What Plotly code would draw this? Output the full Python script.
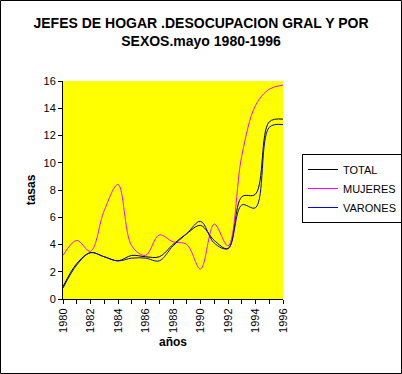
import plotly.graph_objects as go

years = list(range(1980, 1997))
total = [0.9, 2.6, 3.4, 3.1, 2.8, 3.2, 3.1, 3.1, 4.0, 4.8, 5.4, 4.3, 3.7, 7.5, 7.7, 13.0, 13.2]
mujeres = [3.2, 4.3, 3.5, 6.5, 8.4, 3.9, 3.2, 4.7, 4.2, 4.0, 2.2, 5.5, 3.9, 10.5, 14.2, 15.4, 15.7]
varones = [0.8, 2.5, 3.4, 3.1, 2.8, 3.0, 3.0, 2.8, 3.9, 4.8, 5.7, 4.1, 3.7, 6.9, 6.7, 12.6, 12.8]
x_ticklabels = [str(y) if (y - 1980) % 2 == 0 else "" for y in years]
y_ticks = list(range(0, 17, 2))

FONT = "Arial, Liberation Sans, sans-serif"
W, H = 402, 374
ML, MR, MT, MB = 63, 119, 81, 75
PW, PH = W - ML - MR, H - MT - MB

fig = go.Figure()
for name, vals, col in [("TOTAL", total, "#000000"),
                        ("MUJERES", mujeres, "#FF00FF"),
                        ("VARONES", varones, "#0000FF")]:
    fig.add_trace(go.Scatter(x=years, y=vals, name=name, mode="lines",
                             line=dict(color=col, width=1, shape="spline", smoothing=1)))

fig.update_layout(
    width=W, height=H,
    margin=dict(l=ML, r=MR, t=MT, b=MB, pad=0, autoexpand=False),
    paper_bgcolor="white", plot_bgcolor="#FFFF00",
    font=dict(family=FONT, size=11, color="black"),
    title=dict(text="<b>JEFES DE HOGAR .DESOCUPACION GRAL Y POR<br>SEXOS.mayo 1980-1996</b>",
               x=0.5, xanchor="center", y=1 - 28 / H, yanchor="top",
               font=dict(family=FONT, size=14, color="black")),
    showlegend=True,
    legend=dict(x=(302 - ML) / PW, y=(MT + PH - 154) / PH, xanchor="left", yanchor="top",
                bgcolor="white", bordercolor="black", borderwidth=1,
                font=dict(family=FONT, size=11, color="black"),
                tracegroupgap=0, itemwidth=30),
    xaxis=dict(range=[1980, 1996], tickvals=years, ticktext=x_ticklabels,
               tickangle=-90, ticks="outside", ticklen=4, tickcolor="black",
               showline=True, linecolor="black", linewidth=1, showgrid=False,
               zeroline=False, fixedrange=True, automargin=False,
               title=dict(text="<b>años</b>", font=dict(family=FONT, size=12), standoff=5)),
    yaxis=dict(range=[0, 16], tickvals=y_ticks, ticks="outside", ticklen=4,
               tickcolor="black", showline=True, linecolor="black", linewidth=1,
               showgrid=False, zeroline=False, fixedrange=True, automargin=False,
               title=dict(text="<b>tasas</b>", font=dict(family=FONT, size=12), standoff=5)),
    shapes=[dict(type="rect", xref="paper", yref="paper",
                 x0=(-ML + 0.5) / PW, x1=(W - ML - 0.5) / PW,
                 y0=(-MB + 0.5) / PH, y1=(H - MB - 0.5) / PH,
                 line=dict(color="black", width=1), layer="above")],
)

fig.write_html("out.html", config={"displayModeBar": False},
               post_script="document.body.style.margin='0';document.body.style.overflow='hidden';")
